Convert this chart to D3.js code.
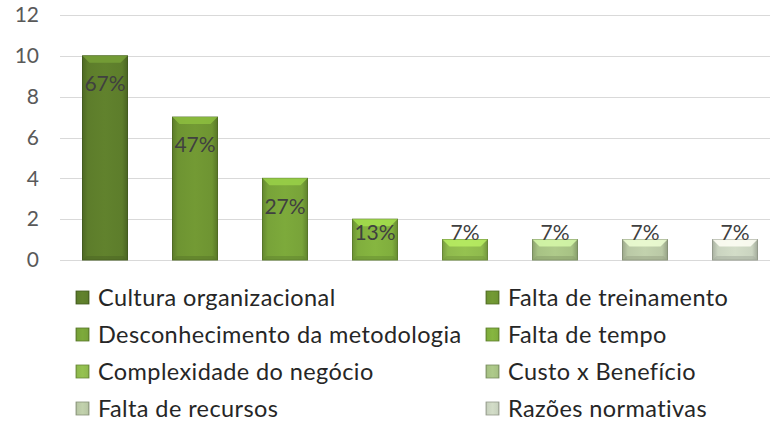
<!DOCTYPE html>
<html>
<head>
<meta charset="utf-8">
<script src="https://cdn.jsdelivr.net/npm/d3@7"></script>
<style>
  body { margin: 0; background: #fff; }
  text { font-family: Lato, "Open Sans", sans-serif; }
</style>
</head>
<body>
<div id="cont"></div>
<script>
// Data
var categories = ["Cultura organizacional", "Falta de treinamento", "Desconhecimento da metodologia",
  "Falta de tempo", "Complexidade do negócio", "Custo x Benefício", "Falta de recursos", "Razões normativas"];
var values = [10, 7, 4, 2, 1, 1, 1, 1];
var pctLabels = ["67%", "47%", "27%", "13%", "7%", "7%", "7%", "7%"];
var yTicks = [0, 2, 4, 6, 8, 10, 12];
var barColors = ["#5d7d2b", "#6e9432", "#78a339", "#80ae3d", "#8fba4d", "#a7c284", "#bac9a6", "#cad4c0"];

var W = 770, H = 423;

var svg = d3.select("#cont").append("svg")
    .attr("width", W)
    .attr("height", H);

var x = d3.scaleBand()
    .domain(categories)
    .range([60, 780])
    .paddingInner(0.5)
    .paddingOuter(0.25);

var y = d3.scaleLinear()
    .domain([0, 12])
    .range([260, 15]);

// gridlines
svg.append("g").selectAll("line")
    .data(yTicks)
    .join("line")
    .attr("x1", 60).attr("x2", W)
    .attr("y1", function(d) { return Math.round(y(d)) + 0.5; })
    .attr("y2", function(d) { return Math.round(y(d)) + 0.5; })
    .attr("stroke", "#d9d9d9")
    .attr("stroke-width", 1);

// y axis labels
var yAxis = d3.axisLeft(y).tickValues(yTicks).tickSize(0).tickPadding(0);
var ga = svg.append("g").attr("transform", "translate(39,0)").call(yAxis);
ga.select(".domain").remove();
ga.selectAll("text")
    .attr("fill", "#595959")
    .style("font-size", "21px")
    .style("font-family", "Lato, 'Open Sans', sans-serif");

// gradients
var defs = svg.append("defs");
barColors.forEach(function(c, i) {
    var g = defs.append("linearGradient").attr("id", "g" + i)
        .attr("x1", "0").attr("x2", "1").attr("y1", "0").attr("y2", "0");
    var base = d3.color(c);
    g.append("stop").attr("offset", "0").attr("stop-color", base.darker(0.5));
    g.append("stop").attr("offset", "0.12").attr("stop-color", base);
    g.append("stop").attr("offset", "0.5").attr("stop-color", base.brighter(0.12));
    g.append("stop").attr("offset", "0.88").attr("stop-color", base);
    g.append("stop").attr("offset", "1").attr("stop-color", base.darker(0.6));
});

var bars = svg.append("g").selectAll("g")
    .data(values)
    .join("g");

bars.append("rect")
    .attr("x", function(d, i) { return x(categories[i]); })
    .attr("y", function(d) { return y(d); })
    .attr("width", x.bandwidth())
    .attr("height", function(d) { return y(0) - y(d); })
    .attr("fill", function(d, i) { return "url(#g" + i + ")"; })
    .attr("stroke", function(d, i) { return d3.color(barColors[i]).darker(0.9); })
    .attr("stroke-width", 1);

// top bevel
bars.append("path")
    .attr("d", function(d, i) {
        var x0 = x(categories[i]), x1 = x0 + x.bandwidth(), t = y(d), b = 7;
        return "M" + x0 + "," + t + "L" + x1 + "," + t + "L" + (x1 - b) + "," + (t + b) + "L" + (x0 + b) + "," + (t + b) + "Z";
    })
    .attr("fill", function(d, i) { return d3.color(barColors[i]).brighter(0.7); })
    .attr("opacity", 0.85);

// bottom bevel
bars.append("path")
    .attr("d", function(d, i) {
        var x0 = x(categories[i]), x1 = x0 + x.bandwidth(), bt = y(0), b = 4;
        return "M" + x0 + "," + bt + "L" + x1 + "," + bt + "L" + (x1 - b) + "," + (bt - b) + "L" + (x0 + b) + "," + (bt - b) + "Z";
    })
    .attr("fill", function(d, i) { return d3.color(barColors[i]).darker(0.5); })
    .attr("opacity", 0.6);

// value labels
bars.append("text")
    .attr("x", function(d, i) { return x(categories[i]) + x.bandwidth() / 2; })
    .attr("y", function(d) { return Math.min(y(d) + 28, 233); })
    .attr("dy", "0.35em")
    .attr("text-anchor", "middle")
    .attr("fill", "#404040")
    .style("font-size", "21px")
    .text(function(d, i) { return pctLabels[i]; });

// legend
var leg = svg.append("g").selectAll("g")
    .data(categories)
    .join("g")
    .attr("transform", function(d, i) {
        var col = i % 2, row = Math.floor(i / 2);
        return "translate(" + (col ? 486 : 76) + "," + (297.5 + row * 37) + ")";
    });

leg.append("rect")
    .attr("x", 0).attr("y", -6.5)
    .attr("width", 13).attr("height", 13)
    .attr("fill", function(d, i) { return "url(#g" + i + ")"; })
    .attr("stroke", function(d, i) { return d3.color(barColors[i]).darker(0.9); })
    .attr("stroke-width", 0.8);

leg.append("text")
    .attr("x", 22)
    .attr("dy", "0.35em")
    .attr("fill", "#262626")
    .style("font-size", "23.5px")
    .style("letter-spacing", "0.4px")
    .text(function(d) { return d; });
</script>
</body>
</html>
